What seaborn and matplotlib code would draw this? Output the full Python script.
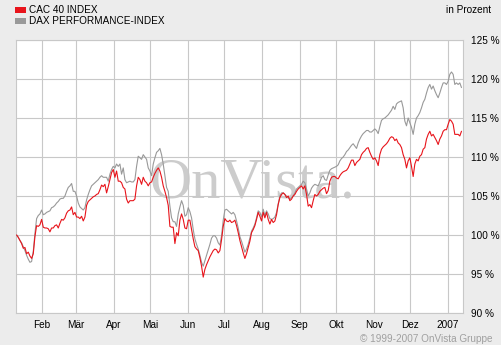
import numpy as np
import pandas as pd
import matplotlib
matplotlib.use("Agg")
import matplotlib.pyplot as plt
import seaborn as sns
from matplotlib.patches import Rectangle

# ---------------- data ----------------
series_names = ["CAC 40 INDEX", "DAX PERFORMANCE-INDEX"]
series_colors = ["#e8141b", "#999999"]

cac_jan_mar = [100.0, 99.7, 99.3, 98.9, 98.3, 98.4, 97.6, 97.8, 97.3, 97.0, 97.6, 99.8,
               101.2, 101.1, 101.3, 102.0, 101.0, 100.9, 100.9, 100.8, 100.4, 100.9, 100.9,
               101.2, 101.3, 100.9, 101.5, 102.0, 101.9, 102.2, 102.8, 103.1, 103.2, 103.6,
               102.6, 102.9, 102.3, 102.3, 102.1, 102.4, 101.8, 102.3, 103.8, 104.3, 104.5, 104.7]
cac_mar_may = [104.9, 105.0, 105.2, 105.3, 105.8, 106.4, 106.2, 106.5, 105.4, 106.2, 107.1,
               108.0, 108.4, 107.4, 108.2, 106.9, 106.9, 106.7, 106.1, 105.9, 104.6, 104.1,
               104.4, 104.4, 104.4, 104.6, 106.3, 107.4, 107.1, 106.5, 107.4, 106.9, 106.7,
               106.3, 106.7, 106.8, 107.4, 107.9, 108.3, 108.6, 108.2, 107.4, 106.3, 105.6,
               104.8, 103.8]
cac_may_jul = [101.1, 101.0, 101.0, 98.9, 100.3, 99.9, 101.9, 102.7, 102.0, 100.9, 100.8,
               101.9, 101.9, 100.7, 99.5, 98.5, 98.2, 98.0, 97.1, 96.0, 94.6, 95.6, 96.2,
               96.7, 97.2, 97.6, 98.0, 98.2, 98.1, 97.7, 98.0, 99.4, 101.1, 102.1, 101.8,
               101.7, 101.9, 101.6, 101.7, 101.9, 101.2, 100.3, 99.3, 98.5, 97.7]
cac_jul_sep = [97.0, 97.6, 98.4, 99.2, 100.3, 100.7, 101.2, 102.0, 102.9, 102.4, 101.8,
               102.9, 102.2, 102.9, 102.0, 101.4, 102.0, 101.6, 101.8, 102.6, 103.9, 104.8,
               105.2, 105.4, 105.2, 104.8, 105.0, 104.4, 104.6, 105.0, 105.2, 105.6, 105.9,
               106.1, 106.3, 105.9, 106.3, 105.2, 103.7, 103.9, 103.5, 104.4, 105.2, 105.0, 105.2]
cac_sep_nov = [105.6, 105.8, 106.0, 106.1, 105.3, 105.7, 106.9, 107.4, 107.5, 107.5, 107.3,
               107.2, 107.6, 107.9, 108.1, 108.2, 108.3, 108.6, 109.1, 109.6, 109.6, 108.9,
               109.3, 109.5, 109.7, 110.3, 110.6, 110.8, 111.1, 111.2, 110.6, 110.1, 109.7,
               109.9, 109.5, 108.9, 110.3, 111.0, 111.3, 111.5, 111.7, 112.0, 112.4, 112.6]
cac_nov_jan = [112.5, 112.1, 112.3, 111.8, 111.6, 111.2, 110.3, 109.7, 108.6, 109.5, 109.9,
               108.8, 107.5, 109.1, 109.7, 109.5, 110.1, 110.3, 111.0, 111.2, 112.3, 112.9,
               113.3, 112.7, 112.9, 112.5, 112.1, 111.6, 112.3, 112.7, 113.3, 113.5, 113.5,
               114.2, 114.8, 114.6, 114.2, 112.9, 112.9, 112.9, 112.7, 113.3]

dax_jan_mar = [100.0, 99.7, 99.3, 99.0, 98.5, 98.0, 97.4, 96.9, 96.5, 96.6, 97.9, 100.2,
               102.1, 102.5, 102.7, 103.2, 102.6, 102.7, 102.9, 103.0, 103.1, 103.5, 103.6,
               103.8, 104.1, 104.3, 104.6, 104.7, 104.7, 105.0, 105.6, 106.1, 106.3, 106.6,
               105.6, 105.6, 105.0, 104.1, 103.6, 103.4, 103.2, 103.5, 104.5, 105.2, 105.8, 106.3]
dax_mar_may = [106.5, 106.7, 106.9, 107.1, 107.4, 107.6, 107.4, 107.4, 107.4, 106.9, 107.8,
               108.4, 108.8, 108.6, 109.1, 108.8, 109.1, 107.8, 108.6, 107.1, 106.7, 106.8,
               106.9, 106.8, 106.8, 107.1, 108.8, 110.1, 109.9, 109.7, 110.3, 110.0, 109.7,
               108.6, 108.2, 107.6, 109.1, 109.9, 110.6, 110.8, 111.1, 110.3, 109.1, 107.6,
               106.1, 105.6]
dax_may_jul = [103.7, 102.2, 101.7, 101.7, 101.1, 102.7, 103.6, 104.4, 103.8, 102.4, 102.6,
               103.5, 103.0, 102.2, 100.7, 99.5, 98.8, 98.2, 97.4, 96.5, 96.0, 96.7, 97.4,
               98.1, 98.8, 99.6, 99.9, 99.9, 99.6, 99.0, 98.7, 99.9, 101.9, 103.2, 103.3,
               103.1, 102.9, 102.7, 102.9, 102.6, 101.8, 100.9, 99.8, 99.2, 98.5]
dax_jul_sep = [97.8, 98.2, 98.8, 99.6, 100.5, 100.9, 101.4, 102.2, 103.1, 102.9, 102.3,
               103.3, 102.5, 103.1, 102.7, 102.1, 102.0, 102.1, 102.3, 102.9, 104.0, 105.0,
               105.4, 105.4, 105.2, 105.0, 104.8, 104.6, 104.8, 105.0, 105.4, 105.9, 106.1,
               106.3, 106.5, 106.9, 106.7, 105.9, 105.0, 105.4, 106.0, 106.3, 106.5, 106.4, 106.3]
dax_sep_nov = [106.8, 107.4, 107.6, 107.1, 107.0, 107.7, 108.3, 108.5, 108.6, 108.7, 108.8,
               109.0, 109.5, 109.8, 110.0, 110.3, 110.7, 110.9, 111.2, 111.5, 111.7, 111.4,
               111.1, 111.8, 112.3, 112.7, 113.0, 113.2, 113.4, 113.4, 113.2, 113.2, 113.4,
               113.6, 113.4, 113.0, 113.9, 114.7, 114.9, 115.0, 115.2, 115.4, 115.7, 116.0]
dax_nov_jan = [116.5, 116.1, 116.8, 117.0, 117.1, 117.2, 116.3, 114.6, 114.0, 115.0, 114.4,
               113.8, 112.9, 114.2, 115.0, 115.3, 115.7, 116.3, 117.0, 117.4, 118.2, 118.9,
               119.3, 118.7, 119.1, 118.5, 118.0, 117.6, 118.2, 118.9, 119.5, 119.5, 119.3,
               119.7, 120.6, 120.9, 120.6, 119.3, 119.5, 119.3, 119.5, 118.9]

period_start = "2006-01-11"
period_end = "2007-01-12"
axis_start = "2006-01-10 12:00"
axis_end = "2007-01-13 00:00"

month_starts = ["2006-02-01", "2006-03-01", "2006-04-01", "2006-05-01", "2006-06-01",
                "2006-07-01", "2006-08-01", "2006-09-01", "2006-10-01", "2006-11-01",
                "2006-12-01", "2007-01-01"]
month_labels = ["Feb", "Mär", "Apr", "Mai", "Jun", "Jul", "Aug", "Sep", "Okt", "Nov",
                "Dez", "2007"]
y_ticks = [90, 95, 100, 105, 110, 115, 120, 125]
y_labels = [f"{v} %" for v in y_ticks]

# ---------------- build long table ----------------
cac = cac_jan_mar + cac_mar_may + cac_may_jul + cac_jul_sep + cac_sep_nov + cac_nov_jan
dax = dax_jan_mar + dax_mar_may + dax_may_jul + dax_jul_sep + dax_sep_nov + dax_nov_jan
cac_dates = pd.date_range(period_start, period_end, periods=len(cac))
dax_dates = pd.date_range(period_start, period_end, periods=len(dax))
df = pd.DataFrame({
    "date": list(dax_dates) + list(cac_dates),
    "value": dax + cac,
    "index": [series_names[1]] * len(dax) + [series_names[0]] * len(cac),
})

# ---------------- style ----------------
sns.set_theme(style="white")
plt.rcParams["font.family"] = ["Liberation Sans", "DejaVu Sans"]
grid_color = "#c8c8c8"
bg = "#ececec"

W, H = 501, 345
fig = plt.figure(figsize=(W / 100, H / 100), dpi=100, facecolor=bg)
ax = fig.add_axes([16 / W, 32 / H, 446.7 / W, 273 / H])
ax.set_facecolor("white")

# watermark
ax.text(0.529, (313 - 197) / 273, "OnVista.", transform=ax.transAxes,
        fontsize=42, family=["Liberation Serif", "DejaVu Serif"], color="#cccccc",
        ha="center", va="baseline", zorder=0.5)

sns.lineplot(data=df, x="date", y="value", hue="index",
             hue_order=[series_names[1], series_names[0]],
             palette=[series_colors[1], series_colors[0]],
             linewidth=0.8, legend=False, ax=ax, zorder=3)

ax.set_xlim(pd.Timestamp(axis_start), pd.Timestamp(axis_end))
ax.set_ylim(90, 125)
ax.set_xticks(pd.to_datetime(month_starts))
ax.set_xticklabels(month_labels)
ax.set_yticks(y_ticks)
ax.set_yticklabels(y_labels)
ax.yaxis.tick_right()
ax.set_xlabel("")
ax.set_ylabel("")
ax.grid(True, color=grid_color, linewidth=0.8)
ax.set_axisbelow(True)
for s in ax.spines.values():
    s.set_color(grid_color)
    s.set_linewidth(0.8)
ax.tick_params(axis="both", length=0, labelsize=7.2, colors="black")
ax.tick_params(axis="x", pad=5)
ax.tick_params(axis="y", pad=6)

# legend (manual)
for i, (name, col) in enumerate(zip(series_names, series_colors)):
    top = 7 + 11 * i
    fig.add_artist(Rectangle((15 / W, 1 - (top + 6) / H), 11 / W, 6 / H,
                             transform=fig.transFigure, facecolor=col, edgecolor="none"))
    fig.text(29 / W, 1 - (12.7 + 11 * i) / H, name, fontsize=7.2, color="black",
             ha="left", va="baseline")

fig.text(491 / W, 1 - 12.7 / H, "in Prozent", fontsize=7.2, color="black",
         ha="right", va="baseline")
fig.text(492 / W, 1 - 342 / H, "© 1999-2007 OnVista Gruppe", fontsize=7.2,
         color="#a0a0a0", ha="right", va="baseline")

fig.savefig("out.png", dpi=100, facecolor=bg)
